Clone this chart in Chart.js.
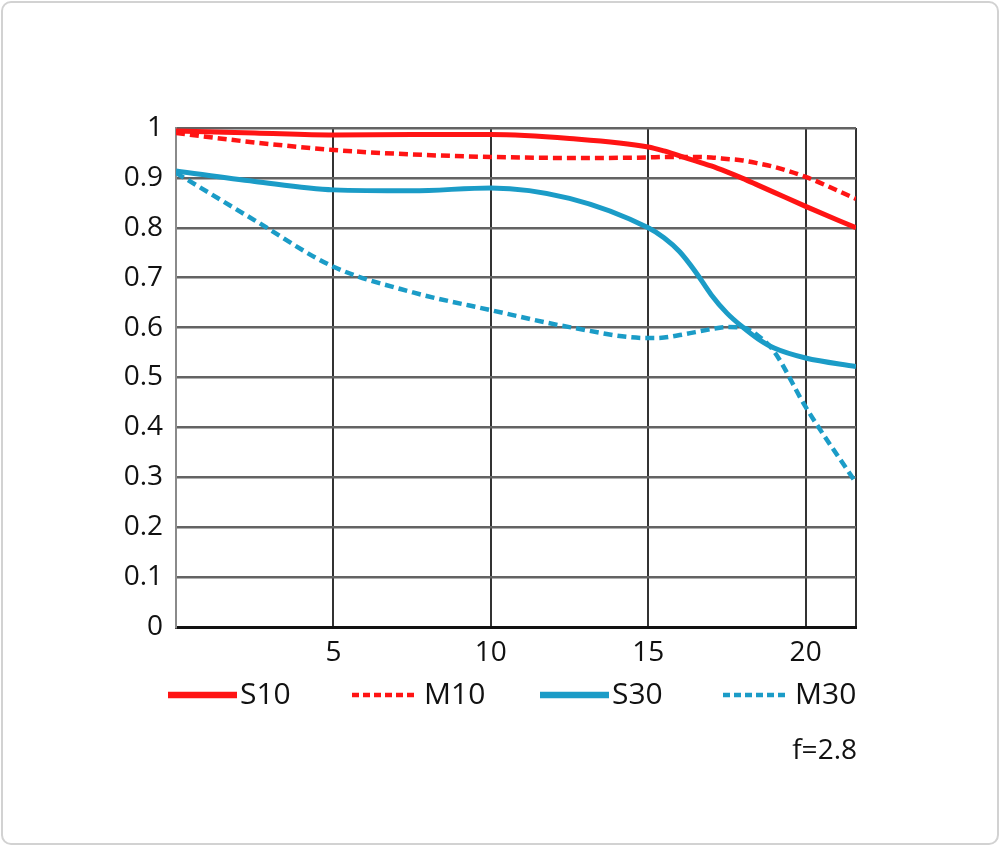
<!DOCTYPE html>
<html>
<head>
<meta charset="utf-8">
<script src="https://cdn.jsdelivr.net/npm/chart.js@4"></script>
<style>
  html, body { margin: 0; padding: 0; background: #fff; }
  #frame { position: absolute; left: 1px; top: 1px; width: 994px; height: 840px;
           border: 2px solid #d2d2d2; border-radius: 10px; }
  #wrap { position: absolute; left: 0; top: 0; width: 1000px; height: 846px; }
</style>
</head>
<body>
<div id="frame"></div>
<div id="wrap"><canvas id="mtf" width="1000" height="846"></canvas></div>
<script>
// ---- data ----
const xPos = [0, 2.5, 5, 7.5, 10, 12.5, 15, 15.5, 16, 16.5, 17, 17.5, 18, 18.5, 19, 20, 21.6];
const s10  = [0.994, 0.990, 0.986, 0.987, 0.987, 0.979, 0.962, 0.954, 0.944, 0.934, 0.924, 0.912, 0.899, 0.885, 0.871, 0.843, 0.800];
const m10  = [0.990, 0.971, 0.956, 0.947, 0.942, 0.940, 0.941, 0.942, 0.942, 0.942, 0.941, 0.938, 0.935, 0.929, 0.922, 0.902, 0.858];
const s30  = [0.914, 0.893, 0.876, 0.874, 0.880, 0.859, 0.800, 0.780, 0.752, 0.712, 0.666, 0.629, 0.601, 0.577, 0.559, 0.539, 0.522];
const m30  = [0.910, 0.815, 0.722, 0.671, 0.635, 0.601, 0.579, 0.580, 0.585, 0.591, 0.597, 0.601, 0.600, 0.583, 0.552, 0.441, 0.289];
const seriesNames = ["S10", "M10", "S30", "M30"];
const xTickValues = [0, 5, 10, 15, 20, 21.6];
const xLabelled = [5, 10, 15, 20];
const noteText = "f=2.8";

const RED = "#ff1414";
const BLUE = "#1b9cc7";
const FONT = "'Open Sans', 'Noto Sans', sans-serif";
const INK = "#111";

function pts(ys) { return xPos.map((x, i) => ({ x, y: ys[i] })); }

function ds(label, ys, color, dashed) {
  return {
    label,
    data: pts(ys),
    borderColor: color,
    backgroundColor: color,
    borderWidth: dashed ? 4.5 : 5,
    borderDash: dashed ? [9, 5] : [],
    pointRadius: 0,
    cubicInterpolationMode: "monotone",
    fill: false
  };
}

// legend drawn at fixed slots under the axis
const legendSlots = [168, 352, 540, 723];
const legendLineW = 66;
const legendY = 695;

const legendPlugin = {
  id: "mtfLegend",
  afterDraw(chart) {
    const ctx = chart.ctx;
    ctx.save();
    chart.data.datasets.forEach((d, i) => {
      const x0 = legendSlots[i];
      const dashed = d.borderDash.length > 0;
      ctx.beginPath();
      ctx.strokeStyle = d.borderColor;
      ctx.lineWidth = dashed ? 4.5 : 6.5;
      ctx.setLineDash(dashed ? [7, 4] : []);
      ctx.moveTo(x0, legendY);
      ctx.lineTo(x0 + legendLineW + (dashed ? 0 : 3), legendY);
      ctx.stroke();
      ctx.setLineDash([]);
      ctx.fillStyle = INK;
      ctx.font = "30px " + FONT;
      ctx.textBaseline = "middle";
      ctx.textAlign = "left";
      ctx.fillText(d.label, x0 + legendLineW + 6, legendY);
    });
    ctx.font = "28px " + FONT;
    ctx.textAlign = "right";
    ctx.fillText(noteText, chart.chartArea.right + 1, 751);
    ctx.restore();
  }
};

new Chart(document.getElementById("mtf"), {
  type: "line",
  data: {
    datasets: [
      ds(seriesNames[0], s10, RED, false),
      ds(seriesNames[1], m10, RED, true),
      ds(seriesNames[2], s30, BLUE, false),
      ds(seriesNames[3], m30, BLUE, true)
    ]
  },
  options: {
    responsive: false,
    animation: false,
    layout: { padding: { left: 0, right: 144, top: 128, bottom: 0 } },
    plugins: { legend: { display: false }, tooltip: { enabled: false } },
    scales: {
      x: {
        type: "linear",
        min: 0,
        max: 21.6,
        afterBuildTicks: s => { s.ticks = xTickValues.map(v => ({ value: v })); },
        afterFit: s => { s.height = 219; },
        grid: {
          color: c => (c.tick && c.tick.value === 0) ? "#8a8a8a" : "#333",
          lineWidth: 2,
          drawTicks: false
        },
        border: { color: "#111", width: 3 },
        ticks: {
          padding: 9,
          color: INK,
          font: { family: FONT, size: 28 },
          callback: v => xLabelled.includes(v) ? String(v) : ""
        }
      },
      y: {
        min: 0,
        max: 1,
        afterFit: s => { s.width = 176; },
        grid: { color: "#636363", lineWidth: 2.5, drawTicks: false },
        border: { color: "#8a8a8a", width: 2 },
        ticks: {
          stepSize: 0.1,
          padding: 13,
          color: INK,
          font: { family: FONT, size: 28 },
          callback: v => String(Number(v.toFixed(1)))
        }
      }
    }
  },
  plugins: [legendPlugin]
});
</script>
</body>
</html>
